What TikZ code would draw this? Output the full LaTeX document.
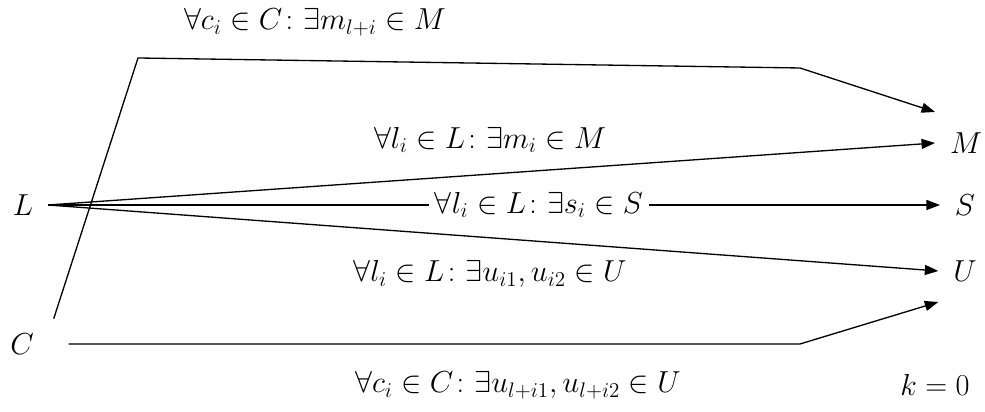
\documentclass[tikz,border=0pt]{standalone}
\usepackage{amsmath, amssymb}
\usepackage{tikz}
\usetikzlibrary{arrows.meta, positioning, calc}

\begin{document}
\begin{tikzpicture}[font=\fontsize{18}{22}\selectfont, line width=0.75pt,
      arr/.style={-{Triangle[length=0.27cm, width=0.2cm]}},
      ent/.style={inner sep=0pt, outer sep=0.3cm},
      lbl/.style={inner sep=3pt}]
    \useasboundingbox (0,0) rectangle (19.7,8.24);
    % sets
    \node[ent] (L) at (0.46, 4.14) {$L$};
    \node[ent] (C) at (0.44, 1.36) {$C$};
    \node[ent] (M) at (19.32, 5.38) {$M$};
    \node[ent] (S) at (19.3, 4.14) {$S$};
    \node[ent] (U) at (19.3, 2.82) {$U$};
    % labels
    \node[lbl] (cm) at (6.3, 7.80) {$\forall c_i \in C\colon \exists m_{l+i} \in M$};
    \node[lbl] (lm) at (9.8, 5.44) {$\forall l_i \in L\colon \exists m_i \in M$};
    \node[lbl] (ls) at (10.78, 4.14) {$\forall l_i \in L\colon \exists s_i \in S$};
    \node[lbl] (lu) at (9.8, 2.76) {$\forall l_i \in L\colon \exists u_{i1}, u_{i2} \in U$};
    \node[lbl] (cu) at (10.36, 0.54) {$\forall c_i \in C\colon \exists u_{l+i1}, u_{l+i2} \in U$};
    \node[lbl] (k) at (18.7, 0.54) {$k = 0$};
    % bends
    \coordinate (b1) at (2.76, 7.08);
    \coordinate (b2) at (16.0, 6.88);
    \coordinate (b3) at (16.0, 1.34);
    % connectors
    \draw[arr] (L.east) -- (M.west);
    \draw (L.east) -- (ls.west);
    \draw[arr] (ls.east) -- (S.west);
    \draw[arr] (L.east) -- (U.west);
    \draw[arr] ([xshift=0.1cm]C.north east) -- (b1) -- (b2) -- ($(M.west)+(0,0.62)$);
    \draw[arr, shorten <=0.4cm] (C.east) -- (C.east -| b3) -- ($(U.west)+(0,-0.62)$);
\end{tikzpicture}
\end{document}
